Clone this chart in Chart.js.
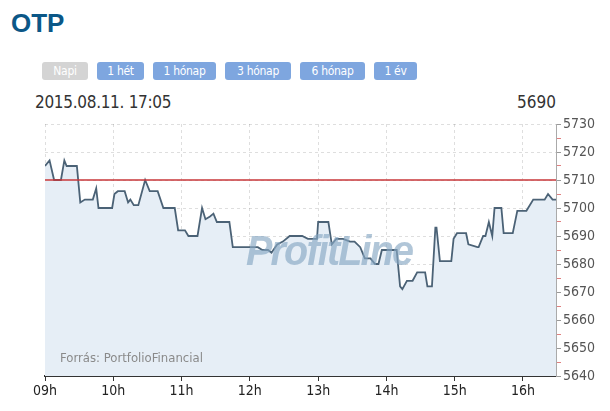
<!DOCTYPE html>
<html lang="hu">
<head>
<meta charset="UTF-8">
<title>OTP napi árfolyam</title>
<script src="https://cdn.jsdelivr.net/npm/chart.js"></script>
<style>
    body {
        margin: 0;
        width: 610px;
        height: 411px;
        position: relative;
        overflow: hidden;
        background: #FFFFFF;
        font-family: 'Liberation Sans Narrow', 'DejaVu Sans Condensed', 'Liberation Sans', sans-serif;
    }
    #title {
        position: absolute;
        left: 11px;
        top: 8px;
        font: bold 26px 'Liberation Sans', Arial, sans-serif;
        color: #0b5787;
    }
    #buttons {
        position: absolute;
        left: 42px;
        top: 62px;
        display: flex;
    }
    .btn {
        height: 18px;
        line-height: 18px;
        text-align: center;
        margin-right: 9px;
        border-radius: 3px;
        background: #7ea6df;
        color: #fff;
        font-size: 12px;
        letter-spacing: -0.3px;
    }
    .btn.off {
        background: #d4d4d4;
    }
    #date {
        position: absolute;
        left: 35px;
        top: 92px;
        font-size: 17px;
        letter-spacing: -0.3px;
        color: #333;
    }
    #last {
        position: absolute;
        right: 54px;
        top: 92px;
        font-size: 17px;
        color: #333;
    }
    #wrap {
        position: absolute;
        left: 0;
        top: 110px;
        width: 610px;
        height: 301px;
    }
    #mark {
        position: absolute;
        left: 246px;
        top: 226px;
        font: italic bold 43px 'Liberation Sans', Arial, sans-serif;
        letter-spacing: -2px;
        color: rgba(135, 168, 195, 0.65);
        transform: scaleX(0.92);
        transform-origin: left top;
        pointer-events: none;
    }
    #source {
        position: absolute;
        left: 60px;
        top: 350px;
        font-size: 13px;
        color: #8a8a8a;
    }
</style>
</head>
<body>
    <div id="title">OTP</div>
    <div id="buttons">
        <div class="btn off" style="width:46px">Napi</div>
        <div class="btn" style="width:47px">1 hét</div>
        <div class="btn" style="width:63px">1 hónap</div>
        <div class="btn" style="width:66px">3 hónap</div>
        <div class="btn" style="width:65px">6 hónap</div>
        <div class="btn" style="width:43px">1 év</div>
    </div>
    <div id="date">2015.08.11. 17:05</div>
    <div id="last">5690</div>
    <div id="wrap"><canvas id="myChart"></canvas></div>
    <div id="mark">ProfitLine</div>
    <div id="source">Forrás: PortfolioFinancial</div>

<script>
    // minutes after 09:00 and price
    var minutes = [0, 4, 8, 14, 17, 19, 28, 31, 35, 42, 45, 47, 59, 61, 64, 70, 73, 75, 78, 82,
        88, 92, 99, 104, 114, 117, 123, 126, 134, 138, 141, 145, 148, 151, 162, 165, 187, 191, 196, 199,
        204, 209, 215, 226, 231, 239, 240, 249, 252, 256, 262, 268, 272, 277, 281, 286, 290, 293, 296, 309,
        312, 314, 318, 323, 327, 334, 336, 340, 343, 344, 347, 357, 359, 362, 370, 372, 380, 381, 385, 387,
        390, 393, 395, 401, 403, 411, 415, 423, 429, 439, 442, 446, 449];
    var prices = [5715, 5717, 5710, 5710, 5717, 5715, 5715, 5702, 5703, 5703, 5707, 5700, 5700, 5705, 5706, 5706, 5702, 5703, 5701, 5701,
        5710, 5706, 5706, 5700, 5700, 5692, 5692, 5690, 5690, 5700, 5696, 5697, 5698, 5695, 5695, 5686, 5686, 5685, 5685, 5684,
        5687, 5688, 5690, 5690, 5689, 5689, 5695, 5695, 5687, 5689, 5689, 5688, 5688, 5686, 5682, 5682, 5680, 5680, 5685, 5685,
        5672, 5671, 5674, 5674, 5677, 5677, 5672, 5672, 5693, 5693, 5681, 5681, 5689, 5691, 5691, 5687, 5686, 5686, 5690, 5690,
        5695, 5690, 5700, 5700, 5691, 5691, 5699, 5699, 5703, 5703, 5705, 5703, 5703];
    var prevClose = 5710;
    var hourLabels = ['09h', '10h', '11h', '12h', '13h', '14h', '15h', '16h'];
    var yMin = 5640, yMax = 5730;
    var dayEnd = 449;

    var points = minutes.map(function(m, i) { return { x: m, y: prices[i] }; });

    var ctx = document.getElementById('myChart').getContext('2d');
    var myChart = new Chart(ctx, {
        type: 'line',
        data: {
            datasets: [{
                data: points,
                borderColor: '#4b6276',
                borderWidth: 1.8,
                backgroundColor: '#e6eef6',
                fill: 'start',
                pointRadius: 0,
                tension: 0,
                order: 1
            }, {
                data: [{ x: 0, y: prevClose }, { x: dayEnd, y: prevClose }],
                borderColor: '#c8373a',
                borderWidth: 1.3,
                pointRadius: 0,
                fill: false,
                order: 0
            }]
        },
        options: {
            animation: false,
            responsive: true,
            maintainAspectRatio: false,
            layout: {
                padding: { left: 45, top: 14, right: 0, bottom: 0 }
            },
            scales: {
                x: {
                    type: 'linear',
                    min: 0,
                    max: dayEnd,
                    afterFit: function(scale) { scale.height = 35; },
                    ticks: {
                        stepSize: 60,
                        includeBounds: false,
                        autoSkip: false,
                        maxRotation: 0,
                        color: '#222',
                        font: { size: 14, family: "'Liberation Sans Narrow', 'DejaVu Sans Condensed', sans-serif" },
                        padding: 2,
                        callback: function(value) {
                            return value % 60 === 0 ? hourLabels[value / 60] : '';
                        }
                    },
                    grid: {
                        color: 'rgba(0,0,0,0.13)',
                        tickColor: '#333',
                        tickLength: 5
                    },
                    border: { color: '#333', width: 2, dash: [3, 3] }
                },
                y: {
                    position: 'right',
                    min: yMin,
                    max: yMax,
                    afterFit: function(scale) { scale.width = 54; },
                    ticks: {
                        stepSize: 5,
                        includeBounds: false,
                        autoSkip: false,
                        color: '#555',
                        font: { size: 14, family: "'Liberation Sans Narrow', 'DejaVu Sans Condensed', sans-serif" },
                        padding: 2,
                        callback: function(value) {
                            return value % 10 === 0 ? value : '';
                        }
                    },
                    grid: {
                        color: function(context) {
                            if (context.tick && context.tick.value % 10 === 0) {
                                return 'rgba(0,0,0,0.13)';
                            }
                            return 'rgba(0,0,0,0)';
                        },
                        tickColor: function(context) {
                            if (context.tick && context.tick.value % 10 === 0) {
                                return '#999';
                            }
                            return '#e08080';
                        },
                        tickLength: 5
                    },
                    border: { color: '#aaa', width: 1, dash: [3, 3] }
                }
            },
            plugins: {
                legend: { display: false },
                tooltip: { enabled: false }
            }
        }
    });
</script>
</body>
</html>
